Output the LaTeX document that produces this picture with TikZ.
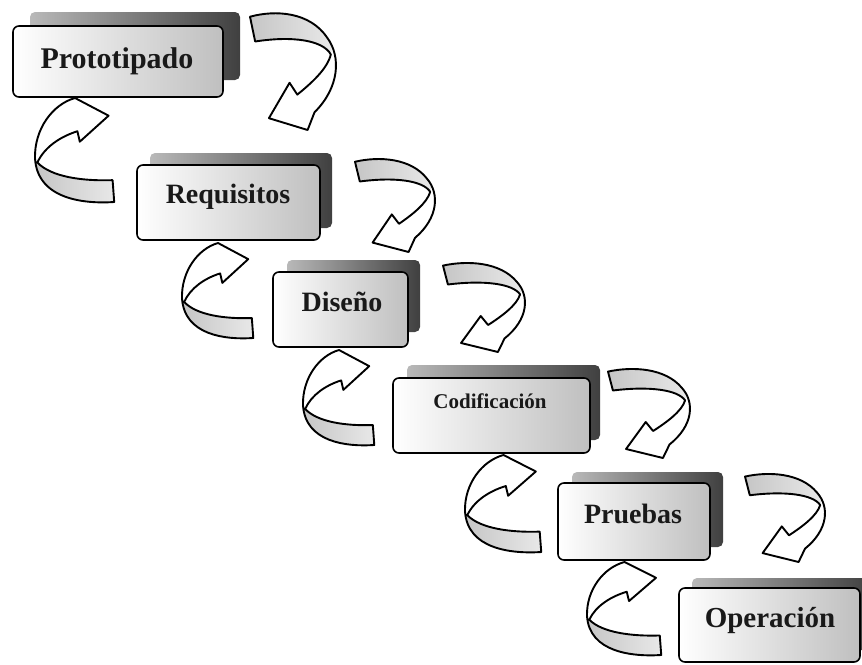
\documentclass[tikz,border=0pt]{standalone}
\usepackage{fontspec}
\setmainfont{Liberation Serif}
\usetikzlibrary{shadings}

\tikzset{
  backbox/.style={rounded corners=5pt, inner sep=0pt, outer sep=0pt, anchor=north west,
    left color=gray!55, right color=black!75},
  frontbox/.style={rounded corners=6pt, inner sep=0pt, outer sep=0pt, anchor=north west,
    draw=black, line width=1.6pt, left color=white, middle color=white, right color=gray!50},
  lbl/.style={anchor=base, inner sep=0pt, text=black!90},
  arrowline/.style={draw=black, line width=1.9pt, line join=round},
  tailshade/.style={left color=gray!45, right color=gray!18},
}

% curved block arrow on the right side: tail at upper left, head at lower left
% (drawn in a unit box; the surrounding scope places and sizes it)
\newcommand\fwdarrowpath{(0,.04) .. controls (.3,-.02) and (.7,0) .. (.9,.22)
  .. controls (1.06,.38) and (1.04,.64) .. (.75,.85) -- (.67,1) -- (.22,.9) -- (.46,.6) -- (.55,.7)
  .. controls (.72,.6) and (.9,.48) .. (.94,.36) .. controls (.85,.24) and (.5,.2) .. (.06,.25) -- cycle}
\newcommand\fwdarrow{%
  \fill[white] \fwdarrowpath;
  \shade[tailshade] (0,.04) .. controls (.3,-.02) and (.7,0) .. (.9,.22)
    .. controls (.95,.28) and (.96,.32) .. (.94,.36) .. controls (.85,.24) and (.5,.2) .. (.06,.25) -- cycle;
  \draw[arrowline] \fwdarrowpath;}

% curved block arrow on the left side: tail at lower right, head at upper right
\newcommand\backarrowpath{(.97,.79) -- (.99,1) .. controls (.6,1.02) and (.03,.97) .. (0,.58)
  .. controls (-.01,.3) and (.22,.06) .. (.5,0) -- (.92,.17) -- (.56,.42) -- (.53,.32)
  .. controls (.32,.37) and (.12,.47) .. (.03,.62) .. controls (.2,.76) and (.6,.8) .. (.97,.79) -- cycle}
\newcommand\backarrow{%
  \fill[white] \backarrowpath;
  \shade[tailshade] (.97,.79) -- (.99,1) .. controls (.6,1.02) and (.03,.97) .. (0,.58)
    -- (.03,.62) .. controls (.2,.76) and (.6,.8) .. (.97,.79) -- cycle;
  \draw[arrowline] \backarrowpath;}

\begin{document}
\begin{tikzpicture}[x=1pt,y=-1pt]
\useasboundingbox (0,0) rectangle (862,664);

% ---- stages: back plate, front plate, caption ----
\node[backbox, minimum width=210pt, minimum height=68pt] (protoB) at (30,12) {};
\node[frontbox, minimum width=210pt, minimum height=71pt] (proto) at (13,26) {};
\node[lbl, font=\fontsize{30}{30}\selectfont\bfseries] (protoT) at (117,68) {Prototipado};

\node[backbox, minimum width=182pt, minimum height=75pt] (reqB) at (150,153) {};
\node[frontbox, minimum width=183pt, minimum height=75pt] (req) at (137,165) {};
\node[lbl, font=\fontsize{28}{28}\selectfont\bfseries] (reqT) at (228,203) {Requisitos};

\node[backbox, minimum width=133pt, minimum height=72pt] (disB) at (287,260) {};
\node[frontbox, minimum width=135pt, minimum height=75pt] (dis) at (273,272) {};
\node[lbl, font=\fontsize{28}{28}\selectfont\bfseries] (disT) at (342,311) {Diseño};

\node[backbox, minimum width=193pt, minimum height=75pt] (codB) at (407,365) {};
\node[frontbox, minimum width=197pt, minimum height=75pt] (cod) at (393,378) {};
\node[lbl, font=\fontsize{21}{21}\selectfont\bfseries] (codT) at (490,408) {Codificación};

\node[backbox, minimum width=151pt, minimum height=75pt] (prB) at (572,472) {};
\node[frontbox, minimum width=152pt, minimum height=77pt] (pr) at (558,483) {};
\node[lbl, font=\fontsize{28}{28}\selectfont\bfseries] (prT) at (633,523) {Pruebas};

\node[backbox, minimum width=178pt, minimum height=72pt] (opB) at (692,578) {};
\node[frontbox, minimum width=181pt, minimum height=74pt] (op) at (679,588) {};
\node[lbl, font=\fontsize{29}{29}\selectfont\bfseries] (opT) at (770,627) {Operación};

% ---- forward arrows (right side) ----
\begin{scope}[shift={(250,12)}, xscale=86, yscale=118] \fwdarrow \end{scope}
\begin{scope}[shift={(355,158)}, xscale=80, yscale=94] \fwdarrow \end{scope}
\begin{scope}[shift={(443,262)}, xscale=82, yscale=90] \fwdarrow \end{scope}
\begin{scope}[shift={(608,368)}, xscale=82, yscale=90] \fwdarrow \end{scope}
\begin{scope}[shift={(745,473)}, xscale=80, yscale=89] \fwdarrow \end{scope}

% ---- feedback arrows (left side) ----
\begin{scope}[shift={(35,98)}, xscale=80, yscale=104] \backarrow \end{scope}
\begin{scope}[shift={(182,243)}, xscale=72, yscale=95] \backarrow \end{scope}
\begin{scope}[shift={(303,350)}, xscale=72, yscale=95] \backarrow \end{scope}
\begin{scope}[shift={(465,455)}, xscale=77, yscale=97] \backarrow \end{scope}
\begin{scope}[shift={(587,562)}, xscale=75, yscale=93] \backarrow \end{scope}
\end{tikzpicture}
\end{document}
